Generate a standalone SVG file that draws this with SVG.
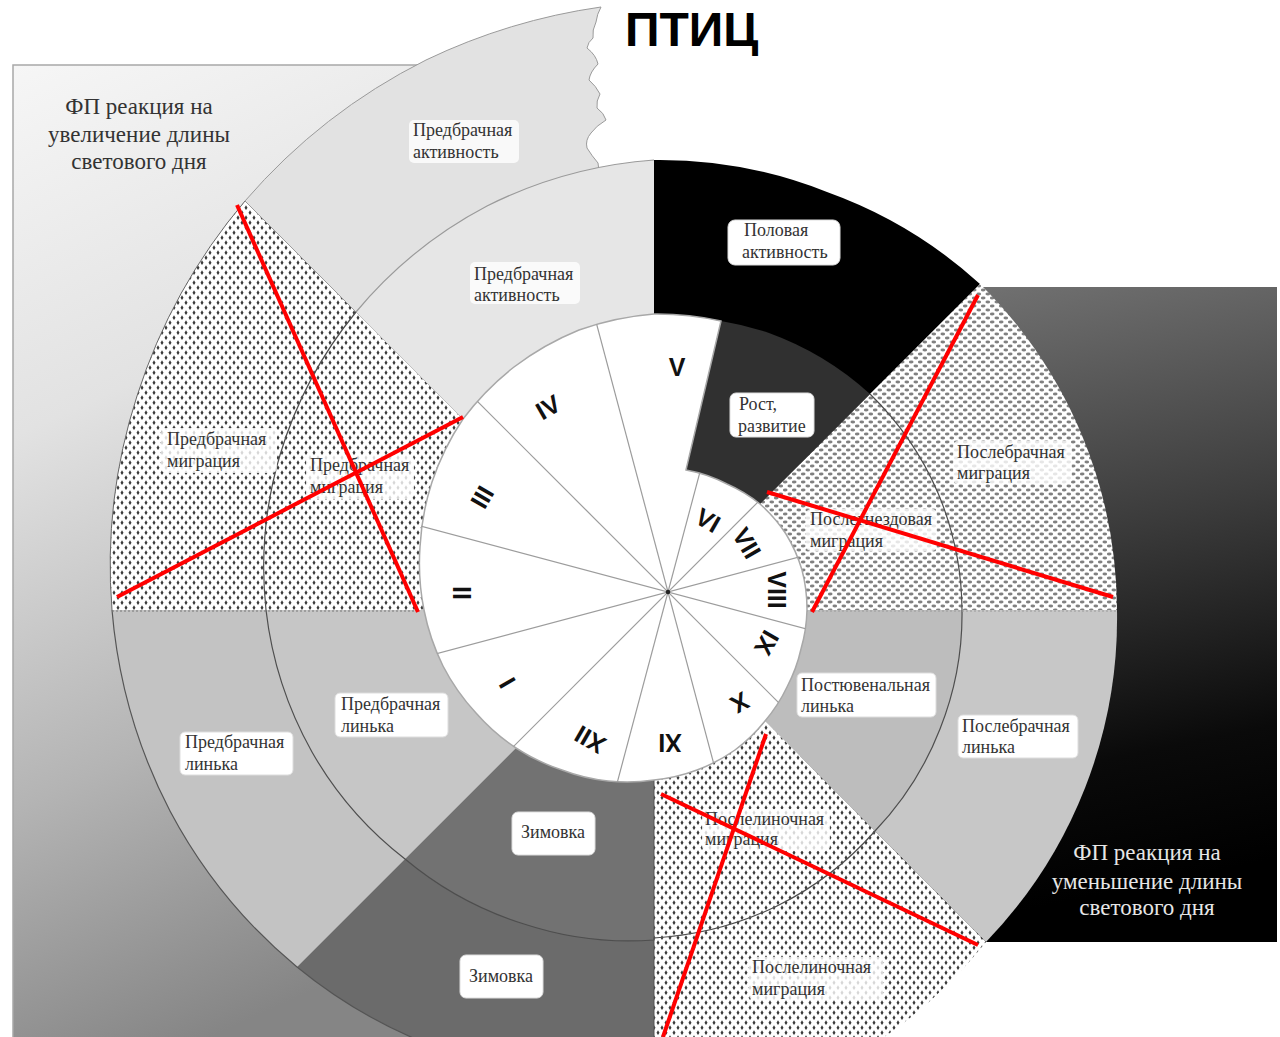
<svg xmlns="http://www.w3.org/2000/svg" width="1280" height="1037" viewBox="0 0 1280 1037">
<style>
.lbl{font-family:"Liberation Serif","Times New Roman",serif;font-size:18px;fill:#333}
.big{font-family:"Liberation Serif","Times New Roman",serif;font-size:23px;text-anchor:middle}
.box{fill:#fff;stroke:#ddd;stroke-width:1}
.boxd{fill:#fff;fill-opacity:0.8}
.num{font-family:"Liberation Sans",Arial,sans-serif;font-weight:bold;font-size:25px;fill:#111;text-anchor:middle}
.red{stroke:#f00;stroke-width:4;stroke-linecap:butt;fill:none}
</style>
<defs>
<linearGradient id="gl" x1="0" y1="0" x2="0.25" y2="1">
<stop offset="0" stop-color="#f6f6f6"/><stop offset="0.35" stop-color="#e2e2e2"/><stop offset="0.7" stop-color="#b4b4b4"/><stop offset="1" stop-color="#858585"/>
</linearGradient>
<linearGradient id="gr" x1="0" y1="0" x2="0.15" y2="1">
<stop offset="0" stop-color="#787878"/><stop offset="0.45" stop-color="#3c3c3c"/><stop offset="0.8" stop-color="#0a0a0a"/><stop offset="1" stop-color="#000"/>
</linearGradient>
<pattern id="pL" width="8" height="10" patternUnits="userSpaceOnUse">
<rect width="8" height="10" fill="#fff"/>
<polygon points="2,0.3 3.5,2.7 2,5.1 0.5,2.7" fill="#3a3a3a"/>
<polygon points="6,5.3 7.5,7.7 6,10 4.5,7.7" fill="#3a3a3a"/>
</pattern>
<pattern id="pR" width="9" height="8" patternUnits="userSpaceOnUse">
<rect width="9" height="8" fill="#fff"/>
<ellipse cx="2.25" cy="2" rx="2.3" ry="1.4" fill="#808080"/>
<ellipse cx="6.75" cy="6" rx="2.3" ry="1.4" fill="#808080"/>
</pattern>
<path id="clockShape" d="M686,470 A144 144 0 0 1 727,484 A147 147 0 0 1 760,504 A151 151 0 0 1 786,534 A152 152 0 0 1 802,570 A153 153 0 0 1 807,610 A153 153 0 0 1 801,649 A152 152 0 0 1 787,687 A155 155 0 0 1 765,721 A160 160 0 0 1 735,750 A164 164 0 0 1 697,770 A168 168 0 0 1 654,780 A173 173 0 0 1 608,781 A181 181 0 0 1 562,770 A190 190 0 0 1 516,748 A200 200 0 0 1 476,713 A212 212 0 0 1 443,666 A224 224 0 0 1 424,610 A236 236 0 0 1 420,547 A249 249 0 0 1 432,482 A263 263 0 0 1 463,419 A275 275 0 0 1 514,367 A285 285 0 0 1 579,330 A293 293 0 0 1 654,314 A296 296 0 0 1 721,321 Z"/>
<clipPath id="clockClip"><use href="#clockShape"/></clipPath>
</defs>

<rect width="1280" height="1037" fill="#fff"/>

<g id="background-boxes">
<rect x="13" y="65" width="547" height="1000" fill="url(#gl)" stroke="#a8a8a8" stroke-width="1.5"/>
<rect x="800" y="287" width="477" height="655" fill="url(#gr)"/>
</g>

<text x="625" y="46" font-family="'Liberation Sans',Arial,sans-serif" font-weight="bold" font-size="48" fill="#000">ПТИЦ</text>

<g id="outer-ring">
<g id="polovaya-aktivnost"><path d="M654,610 L654,160 A452 452 0 0 1 827,192 A456 456 0 0 1 980,284 Z" fill="#000"/></g>
<g id="poslebrachnaya-migraciya"><path d="M654,610 L980,284 A462 462 0 0 1 1081,433 A462 462 0 0 1 1117,610 Z" fill="url(#pR)"/></g>
<g id="poslebrachnaya-linka"><path d="M654,610 L1117,610 A465 465 0 0 1 1085,788 A468 468 0 0 1 986,942 Z" fill="#c7c7c7"/></g>
<g id="posleli-migraciya-outer"><path d="M654,610 L986,942 A480 480 0 0 1 842,1063 A495 495 0 0 1 654,1110 Z" fill="url(#pL)"/></g>
<g id="zimovka-outer"><path d="M654,610 L654,1075 A475 475 0 0 1 468,1058 A495 495 0 0 1 297,967 Z" fill="#6b6b6b"/></g>
<g id="predbr-linka-outer"><path d="M654,610 L297,967 A515 515 0 0 1 170,811 A533 533 0 0 1 112,610 Z" fill="#c3c3c3"/></g>
<g id="predbr-migraciya-outer"><path d="M654,610 L112,610 A551 551 0 0 1 137,396 A570 570 0 0 1 245,201 Z" fill="url(#pL)"/></g>
<g id="predbr-aktivnost-outer"><path d="M654,610 L245,201 A587 587 0 0 1 426,60 A600 600 0 0 1 601,7 Q597,14 596,22 Q592,30 593,38 Q588,42 587,48 Q596,55 598,64 Q590,72 589,80 Q596,86 600,94 Q596,101 597,108 Q604,113 606,120 Q596,126 591,133 Q585,140 587,148 Q592,156 598,163 Z" fill="#e2e2e2" stroke="#9a9a9a" stroke-width="1"/></g>
</g>

<g id="inner-ring">
<g id="rost-razvitie"><path d="M654,610 L721,321 A299 299 0 0 1 769,333 A303 303 0 0 1 870,394 Z" fill="#303030"/></g>
<g id="postyuvenalnaya-linka"><path d="M654,610 L962,610 A309 309 0 0 1 940,729 A311 311 0 0 1 875,831 Z" fill="#bdbdbd"/></g>
<g id="zimovka-inner"><path d="M654,610 L654,940 A335 335 0 0 1 524,924 A346 346 0 0 1 405,859 Z" fill="#727272"/></g>
<g id="predbr-linka-inner"><path d="M654,610 L405,859 A361 361 0 0 1 312,752 A379 379 0 0 1 266,610 Z" fill="#c6c6c6"/></g>
<g id="predbr-aktivnost-inner"><path d="M654,610 L356,312 A430 430 0 0 1 487,206 A444 444 0 0 1 654,160 Z" fill="#e6e6e6"/></g>
</g>

<g id="ring-lines" fill="none">
<path d="M870,394 A306 306 0 0 1 938,493 A307 307 0 0 1 962,610 A309 309 0 0 1 940,729 A311 311 0 0 1 875,831 A316 316 0 0 1 777,906 A324 324 0 0 1 654,938 L654,940 A335 335 0 0 1 524,924 A346 346 0 0 1 405,859 A361 361 0 0 1 312,752 A379 379 0 0 1 266,610 A396 396 0 0 1 280,455 A413 413 0 0 1 356,312" stroke="#4e4e4e" stroke-width="1.2"/>
<path d="M356,312 A430 430 0 0 1 487,206 A444 444 0 0 1 654,160" stroke="#9a9a9a" stroke-width="1.2"/>
<path d="M654,1075 A475 475 0 0 1 468,1058 A495 495 0 0 1 297,967 A515 515 0 0 1 170,811 A533 533 0 0 1 112,610" stroke="#555" stroke-width="1.2"/>
<path d="M112,610 A551 551 0 0 1 137,396 A570 570 0 0 1 245,201" stroke="#666" stroke-width="1"/>
<line x1="112" y1="611" x2="420" y2="611" stroke="#777" stroke-width="1" stroke-dasharray="2 2"/>
<line x1="806" y1="611" x2="1117" y2="611" stroke="#999" stroke-width="1" stroke-dasharray="2 2"/>
<line x1="654" y1="780" x2="654" y2="1037" stroke="#555" stroke-width="1"/>
</g>

<g id="clock">
<use href="#clockShape" fill="#fff" stroke="#a8a8a8" stroke-width="1.5"/>
<g clip-path="url(#clockClip)" stroke="#9c9c9c" stroke-width="1.2">
<line x1="753" y1="273" x2="583" y2="911"/>
<line x1="901" y1="359" x2="435" y2="825"/>
<line x1="987" y1="507" x2="349" y2="677"/>
<line x1="987" y1="677" x2="349" y2="507"/>
<line x1="901" y1="825" x2="435" y2="359"/>
<line x1="753" y1="911" x2="583" y2="273"/>
</g>
<circle cx="668" cy="592" r="2.2" fill="#222"/>
<g id="months">
<text class="num" dy="0.36em" transform="translate(677 367) rotate(0)">V</text>
<text class="num" dy="0.36em" transform="translate(708 520) rotate(30)">VI</text>
<text class="num" dy="0.36em" transform="translate(747 543) rotate(60)">VII</text>
<text class="num" dy="0.36em" transform="translate(777 590) rotate(90)">VIII</text>
<text class="num" dy="0.36em" transform="translate(767 643) rotate(120)">IX</text>
<text class="num" dy="0.36em" transform="translate(740 703) rotate(150)">X</text>
<text class="num" dy="0.36em" transform="translate(670 743) rotate(180)">XI</text>
<text class="num" dy="0.36em" transform="translate(590 740) rotate(210)">XII</text>
<text class="num" dy="0.36em" transform="translate(507 683) rotate(240)">I</text>
<text class="num" dy="0.36em" transform="translate(462 593) rotate(270)">II</text>
<text class="num" dy="0.36em" transform="translate(482 497) rotate(300)">III</text>
<text class="num" dy="0.36em" transform="translate(548 407) rotate(330)">IV</text>
</g>
</g>

<g id="labels">
<g id="lbl-predbr-akt-outer"><rect class="boxd" x="409" y="120" width="110" height="43" rx="5"/><text class="lbl" x="413" y="136">Предбрачная</text><text class="lbl" x="413" y="158">активность</text></g>
<g id="lbl-predbr-akt-inner"><rect class="boxd" x="470" y="262" width="110" height="42" rx="5"/><text class="lbl" x="474" y="280">Предбрачная</text><text class="lbl" x="474" y="301">активность</text></g>
<g id="lbl-polovaya"><rect class="box" x="728" y="220" width="112" height="45" rx="7"/><text class="lbl" x="744" y="236">Половая</text><text class="lbl" x="742" y="258">активность</text></g>
<g id="lbl-rost"><rect class="box" x="730" y="393" width="84" height="44" rx="6"/><text class="lbl" x="739" y="410">Рост,</text><text class="lbl" x="738" y="432">развитие</text></g>
<g id="lbl-poslebr-migr"><rect class="boxd" x="953" y="441" width="119" height="43" rx="5"/><text class="lbl" x="957" y="458">Послебрачная</text><text class="lbl" x="957" y="479">миграция</text></g>
<g id="lbl-poslegnezd-migr"><rect class="boxd" x="806" y="509" width="131" height="42" rx="5"/><text class="lbl" x="810" y="525">Послегнездовая</text><text class="lbl" x="810" y="547">миграция</text></g>
<g id="lbl-predbr-migr-outer"><rect class="boxd" x="161" y="428" width="116" height="45" rx="5"/><text class="lbl" x="167" y="445">Предбрачная</text><text class="lbl" x="167" y="467">миграция</text></g>
<g id="lbl-predbr-migr-inner"><rect class="boxd" x="306" y="455" width="108" height="44" rx="5"/><text class="lbl" x="310" y="471">Предбрачная</text><text class="lbl" x="310" y="493">миграция</text></g>
<g id="lbl-predbr-linka-outer"><rect class="box" x="180" y="732" width="113" height="43" rx="5"/><text class="lbl" x="185" y="748">Предбрачная</text><text class="lbl" x="185" y="770">линька</text></g>
<g id="lbl-predbr-linka-inner"><rect class="box" x="335" y="693" width="113" height="44" rx="5"/><text class="lbl" x="341" y="710">Предбрачная</text><text class="lbl" x="341" y="732">линька</text></g>
<g id="lbl-zimovka-inner"><rect class="box" x="512" y="812" width="83" height="43" rx="6"/><text class="lbl" x="553" y="838" text-anchor="middle">Зимовка</text></g>
<g id="lbl-zimovka-outer"><rect class="box" x="460" y="955" width="83" height="43" rx="6"/><text class="lbl" x="501" y="982" text-anchor="middle">Зимовка</text></g>
<g id="lbl-postyuv-linka"><rect class="box" x="797" y="673" width="139" height="44" rx="5"/><text class="lbl" x="801" y="691">Постювенальная</text><text class="lbl" x="801" y="712">линька</text></g>
<g id="lbl-poslebr-linka"><rect class="box" x="958" y="715" width="120" height="43" rx="5"/><text class="lbl" x="962" y="732">Послебрачная</text><text class="lbl" x="962" y="753">линька</text></g>
<g id="lbl-posleli-migr-inner"><rect class="boxd" x="702" y="809" width="128" height="42" rx="5"/><text class="lbl" x="705" y="825">Послелиночная</text><text class="lbl" x="705" y="845">миграция</text></g>
<g id="lbl-posleli-migr-outer"><rect class="boxd" x="749" y="957" width="134" height="43" rx="5"/><text class="lbl" x="752" y="973">Послелиночная</text><text class="lbl" x="752" y="995">миграция</text></g>
</g>

<g id="fp-left" fill="#333">
<text class="big" x="139" y="114">ФП реакция на</text>
<text class="big" x="139" y="142">увеличение длины</text>
<text class="big" x="139" y="169">светового дня</text>
</g>
<g id="fp-right" fill="#e6e6e6">
<text class="big" x="1147" y="860">ФП реакция на</text>
<text class="big" x="1147" y="889">уменьшение длины</text>
<text class="big" x="1147" y="915">светового дня</text>
</g>

<g id="connectors">
<line class="red" x1="237" y1="205" x2="418" y2="612"/>
<line class="red" x1="117" y1="597" x2="463" y2="417"/>
<line class="red" x1="978" y1="295" x2="812" y2="612"/>
<line class="red" x1="767" y1="492" x2="1113" y2="597"/>
<line class="red" x1="766" y1="734" x2="663" y2="1037"/>
<line class="red" x1="661" y1="794" x2="978" y2="945"/>
</g>
</svg>
